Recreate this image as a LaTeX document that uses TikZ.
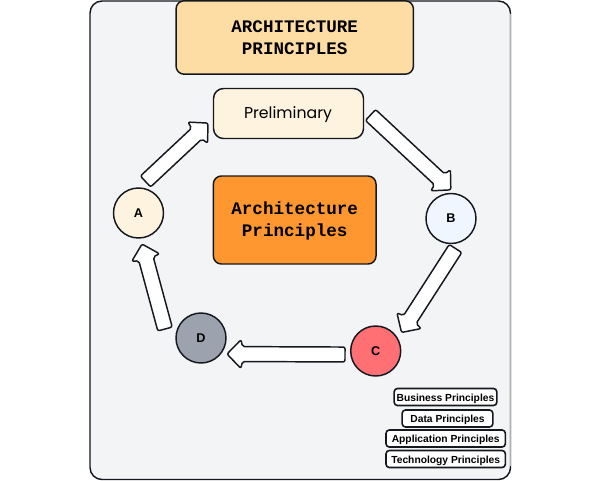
\documentclass[tikz,border=0pt]{standalone}
\usepackage{fontspec}
\setmainfont{Liberation Sans}
\newfontfamily\monof{Liberation Mono}
\newfontfamily\prelimf{Poppins}
\usetikzlibrary{calc}
\definecolor{inkc}{HTML}{15181E}
\definecolor{panelc}{HTML}{F3F4F6}
\definecolor{titlec}{HTML}{FEDDA4}
\definecolor{creamc}{HTML}{FEF3DE}
\definecolor{corec}{HTML}{FE9730}
\definecolor{bluec}{HTML}{EFF6FF}
\definecolor{redc}{HTML}{FF7075}
\definecolor{grayc}{HTML}{9CA3AF}
\newcommand{\tagtext}[1]{\raisebox{-1.1pt}[\height][\depth]{#1}}
\tikzset{
  x=0.75pt,y=-0.75pt,
  ink/.style={draw=inkc,line width=1.1pt,line join=round},
  bigbox/.style={ink,rounded corners=6pt,align=center,inner sep=0pt},
  phase/.style={ink,circle,minimum size=37.5pt,inner sep=0pt,font=\bfseries\fontsize{9.5}{11}\selectfont},
  tagbox/.style={ink,line width=1.2pt,fill=white,rounded corners=2.5pt,inner sep=0pt,minimum height=12.8pt,font=\bfseries\fontsize{7.7}{9}\selectfont},
  blockarrow/.style={ink,fill=white,rounded corners=1.5pt}
}
% #1 tail centre, #2 tip
\newcommand{\blockarrow}[2]{%
  \draw[blockarrow] let \p1=($(#2)-(#1)$), \n1={atan2(\y1,\x1)}, \n2={veclen(\x1,\y1)} in
    [shift={(#1)},rotate=\n1,x=1pt,y=1pt]
    (0,-5.6) -- ({\n2-11.5},-5.6) -- ({\n2-10.5},-10.8) -- (\n2,0) -- ({\n2-10.5},10.8) -- ({\n2-11.5},5.6) -- (0,5.6) -- cycle;
}
\begin{document}
\begin{tikzpicture}
\useasboundingbox (0,0) rectangle (600,480);
\fill[white] (0,0) rectangle (600,480);
\draw[draw=inkc,fill=panelc,line width=1.1pt,rounded corners=9pt] (90,1) rectangle (510.5,479.5);
\draw[draw=black!30,line width=1.1pt] (510.5,14) -- (510.5,466);

\node[bigbox,fill=titlec,minimum width=178pt,minimum height=55pt] (title) at (294.7,37.5) {};
\node[align=center,inner sep=0pt,font=\monof\bfseries\fontsize{13.2}{16.5}\selectfont] (titletext) at (294.7,37.5) {ARCHITECTURE\\PRINCIPLES};
\node[ink,rounded corners=7.5pt,fill=creamc,minimum width=112.5pt,minimum height=37.5pt,inner sep=0pt] (prelim) at (288.5,113.5) {};
\node[inner sep=0pt,font=\prelimf\fontsize{11.8}{14}\selectfont] (prelimtext) at (288,115) {Preliminary};
\node[bigbox,fill=corec,minimum width=122pt,minimum height=66pt] (core) at (294.7,220) {};
\node[align=center,inner sep=0pt,font=\monof\bfseries\fontsize{13.2}{16.5}\selectfont] (coretext) at (294.7,221) {Architecture\\Principles};

\node[phase,fill=creamc] (A) at (138.5,213) {A};
\node[phase,fill=bluec] (B) at (451,218.5) {B};
\node[phase,fill=redc] (C) at (375.7,351) {C};
\node[phase,fill=grayc] (D) at (201,338) {D};

\coordinate (aStart) at (145.5,181.5);
\coordinate (aTip) at (208,123);
\coordinate (bStart) at (370.5,115);
\coordinate (bTip) at (451,190);
\coordinate (cStart) at (455.5,248.5);
\coordinate (cTip) at (401.5,332.5);
\coordinate (dStart) at (345,354.5);
\coordinate (dTip) at (227,354);
\coordinate (eStart) at (165,329);
\coordinate (eTip) at (142,244);
\blockarrow{aStart}{aTip}
\blockarrow{bStart}{bTip}
\blockarrow{cStart}{cTip}
\blockarrow{dStart}{dTip}
\blockarrow{eStart}{eTip}

\node[tagbox,minimum width=77pt] (t1) at (445.5,397) {\tagtext{Business Principles}};
\node[tagbox,minimum width=68pt] (t2) at (447.5,418.5) {\tagtext{Data Principles}};
\node[tagbox,minimum width=89.5pt] (t3) at (445.7,438.5) {\tagtext{Application Principles}};
\node[tagbox,minimum width=89.5pt] (t4) at (445.7,459) {\tagtext{Technology Principles}};
\end{tikzpicture}
\end{document}
